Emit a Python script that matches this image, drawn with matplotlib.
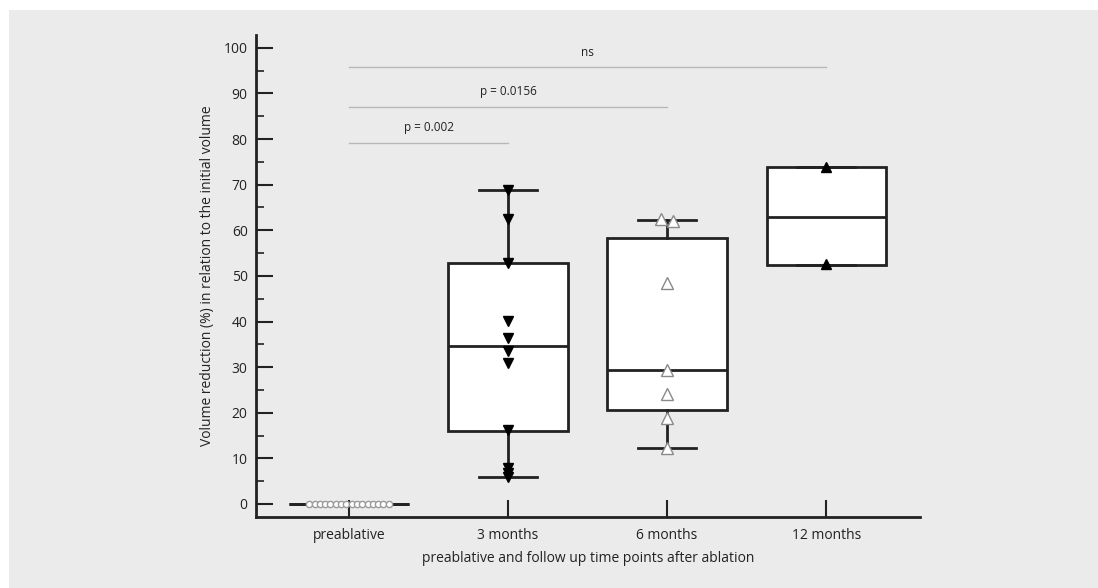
import numpy as np
import matplotlib
matplotlib.use("Agg")
import matplotlib.pyplot as plt
from matplotlib.patches import Rectangle

plt.rcParams['font.family'] = ['Open Sans', 'DejaVu Sans']

# categories and values
groups = ["preablative", "3 months", "6 months", "12 months"]
pre_vals = [0.0] * 16
m3_vals = [68.8, 62.5, 52.9, 40.2, 36.3, 33.6, 31.0, 16.3, 7.9, 6.8, 6.0]
m6_vals = [62.4, 62.0, 48.5, 29.4, 24.1, 18.9, 12.2]
m12_vals = [73.9, 52.5]

# box statistics (as drawn in the original)
whislo = [0.0, 6.0, 12.3, 52.3]
q1 = [0.0, 16.0, 20.5, 52.3]
med = [0.0, 34.6, 29.4, 63.0]
q3 = [0.0, 52.9, 58.4, 73.8]
whishi = [0.0, 68.8, 62.3, 73.8]

comparisons = [(0, 1, 79.2, "p = 0.002"), (0, 2, 87.1, "p = 0.0156"), (0, 3, 95.8, "ns")]

fig = plt.figure(figsize=(10.98, 5.88), dpi=100)
fig.patch.set_facecolor("white")
bg = Rectangle((9 / 1098, 0), 1, 1 - 10 / 588, transform=fig.transFigure,
               facecolor="#eaebea", edgecolor="none", zorder=-10)
fig.add_artist(bg)
ax = fig.add_axes([256 / 1098, 1 - 517 / 588, (920 - 256) / 1098, (517 - 35) / 588])
ax.set_facecolor("none")
ax.set_zorder(1)

dark = "#222222"
stats = []
for i, g in enumerate(groups):
    stats.append(dict(label=g, whislo=whislo[i], q1=q1[i], med=med[i], q3=q3[i], whishi=whishi[i], fliers=[]))
pos = np.arange(len(groups))
ax.bxp(stats, positions=pos, widths=0.75, capwidths=0.365, patch_artist=True,
       showfliers=False, manage_ticks=False,
       boxprops=dict(facecolor="white", edgecolor=dark, linewidth=2),
       whiskerprops=dict(color=dark, linewidth=2),
       capprops=dict(color=dark, linewidth=2),
       medianprops=dict(color=dark, linewidth=2), zorder=2)

# points
ax.plot(pos[0] + np.linspace(-0.25, 0.25, len(pre_vals)), pre_vals, "o", ms=4.5,
        mfc="white", mec="#9a9a9a", mew=1, zorder=3)
ax.plot([pos[1]] * len(m3_vals), m3_vals, "v", ms=7, color="black", zorder=3)
m6_off = [-0.04, 0.04, 0, 0, 0, 0, 0]
ax.plot(pos[2] + np.array(m6_off), m6_vals, "^", ms=8, mfc="white", mec="#8a8a8a", mew=1, zorder=3)
ax.plot([pos[3]] * len(m12_vals), m12_vals, "^", ms=7, color="black", zorder=3)

# significance bars
for a, b, y, txt in comparisons:
    ax.plot([pos[a], pos[b]], [y, y], color="#b8b8b8", lw=1, zorder=1)
    ax.text((pos[a] + pos[b]) / 2, y + 1.8, txt, ha="center", va="bottom", fontsize=8.5, color=dark)

ax.set_xlim(-0.585, 3.59)
ax.set_ylim(-2.85, 102.8)
ax.set_xticks(pos)
ax.set_xticklabels(groups)
ax.set_yticks(np.arange(0, 101, 10))
ax.set_yticks(np.arange(5, 100, 10), minor=True)
ax.tick_params(axis="both", which="major", direction="in", length=12, width=1.5, color=dark,
               labelsize=10, labelcolor=dark)
ax.tick_params(axis="y", which="minor", direction="in", length=6, width=1.2, color=dark)
ax.tick_params(axis="y", pad=6)
ax.tick_params(axis="x", pad=8)
for s in ["top", "right"]:
    ax.spines[s].set_visible(False)
for s in ["left", "bottom"]:
    ax.spines[s].set_linewidth(2)
    ax.spines[s].set_color(dark)

ax.set_xlabel("preablative and follow up time points after ablation", fontsize=10, color=dark, labelpad=6)
ax.set_ylabel("Volume reduction (%) in relation to the initial volume", fontsize=10, color=dark, labelpad=6)

fig.savefig("out.png", dpi=100)
